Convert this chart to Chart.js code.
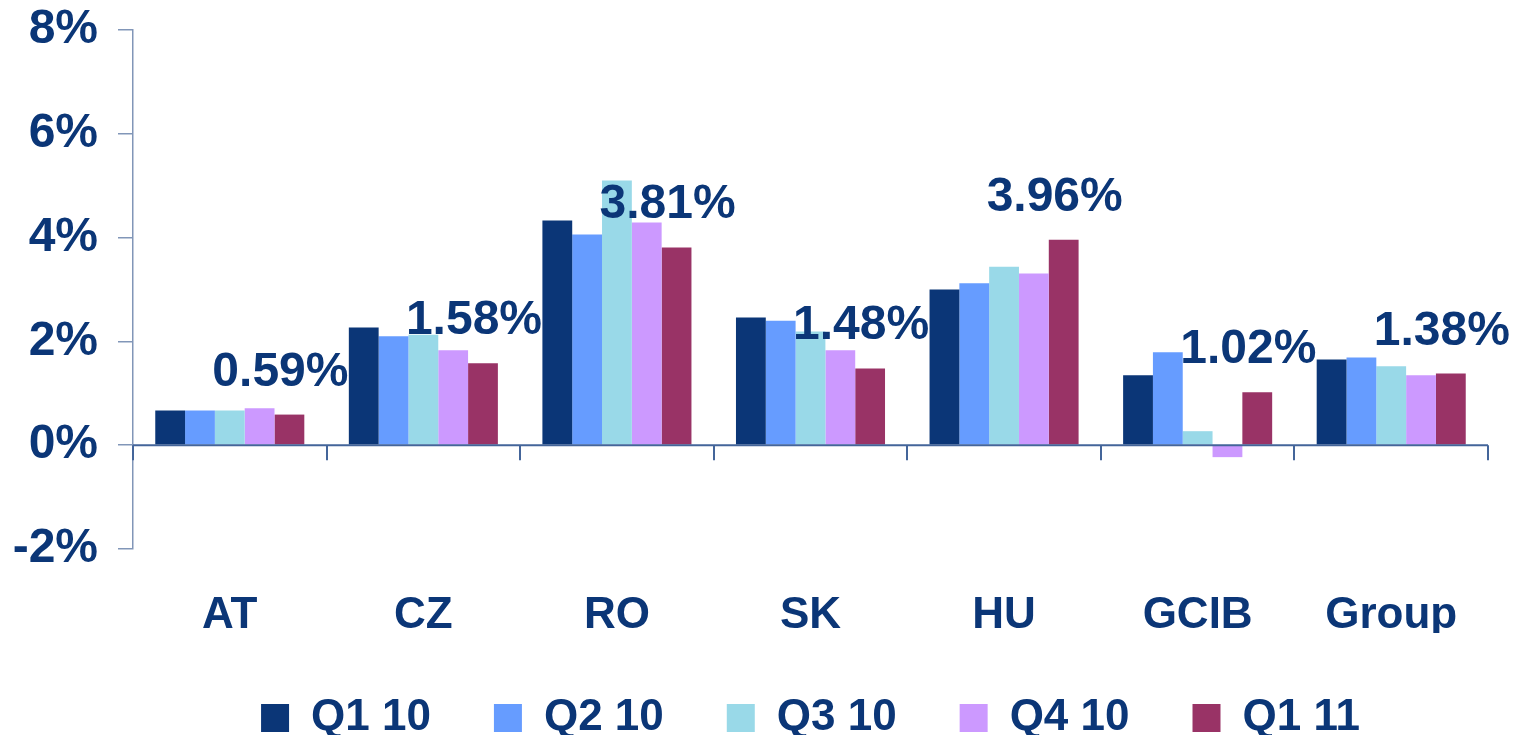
<!DOCTYPE html>
<html>
<head>
<meta charset="utf-8">
<script src="https://cdn.jsdelivr.net/npm/chart.js@4.4.1/dist/chart.umd.min.js"></script>
<style>
    html, body { margin: 0; padding: 0; background: #fff; }
    #wrap { width: 1516px; height: 735px; position: relative; }
</style>
</head>
<body>
<div id="wrap"><canvas id="chart"></canvas></div>
<script>
const categories = ['AT', 'CZ', 'RO', 'SK', 'HU', 'GCIB', 'Group'];
const q1_10 = [0.67, 2.27, 4.33, 2.46, 3.00, 1.35, 1.65];
const q2_10 = [0.67, 2.10, 4.06, 2.40, 3.12, 1.79, 1.69];
const q3_10 = [0.67, 2.13, 5.10, 2.19, 3.44, 0.27, 1.52];
const q4_10 = [0.71, 1.83, 4.29, 1.83, 3.31, -0.23, 1.35];
const q1_11 = [0.59, 1.58, 3.81, 1.48, 3.96, 1.02, 1.38];
const seriesNames = ['Q1 10', 'Q2 10', 'Q3 10', 'Q4 10', 'Q1 11'];
const seriesColors = ['#0b3677', '#669cff', '#99d9e8', '#cc99ff', '#993366'];
const yTicks = [-2, 0, 2, 4, 6, 8];

const navy = '#0b3677';
const axisColor = '#8196b8';
const FONT = "'Liberation Sans', Arial, sans-serif";

// zero line with category tick marks, like the original axis
const zeroAxis = {
    id: 'zeroAxis',
    afterDatasetsDraw(chart) {
        const { ctx, chartArea, scales } = chart;
        const y0 = scales.y.getPixelForValue(0);
        ctx.save();
        ctx.strokeStyle = '#44659a';
        ctx.lineWidth = 2;
        ctx.beginPath();
        ctx.moveTo(chartArea.left, y0);
        ctx.lineTo(chartArea.right, y0);
        for (let i = 0; i <= categories.length; i++) {
            const x = Math.round(scales.x.getPixelForValue(i - 0.5));
            ctx.moveTo(x, y0);
            ctx.lineTo(x, y0 + 15);
        }
        ctx.stroke();
        ctx.restore();
    }
};

// value labels over the last series
const lastLabels = {
    id: 'lastLabels',
    afterDatasetsDraw(chart) {
        const { ctx } = chart;
        const meta = chart.getDatasetMeta(4);
        ctx.save();
        ctx.font = 'bold 48px ' + FONT;
        ctx.fillStyle = navy;
        ctx.textAlign = 'center';
        ctx.textBaseline = 'alphabetic';
        meta.data.forEach((bar, i) => {
            ctx.fillText(q1_11[i].toFixed(2) + '%', bar.x - 9, bar.y - 29);
        });
        ctx.restore();
    }
};

const allSeries = [q1_10, q2_10, q3_10, q4_10, q1_11];

new Chart(document.getElementById('chart'), {
    type: 'bar',
    data: {
        labels: categories,
        datasets: allSeries.map((values, i) => ({
            label: seriesNames[i],
            data: values,
            backgroundColor: seriesColors[i],
            borderWidth: 0,
            categoryPercentage: 0.77,
            barPercentage: 1.0
        }))
    },
    options: {
        responsive: true,
        maintainAspectRatio: false,
        animation: false,
        layout: {
            padding: { top: 30, right: 28, bottom: -15, left: 0 }
        },
        scales: {
            x: {
                grid: { display: false, drawTicks: false },
                border: { display: false },
                ticks: {
                    color: navy,
                    padding: 40,
                    font: { family: FONT, size: 44, weight: 'bold' }
                },
                afterFit(scale) { scale.height = 84; }
            },
            y: {
                min: -2,
                max: 8,
                afterBuildTicks(scale) {
                    scale.ticks = yTicks.map(v => ({ value: v }));
                },
                grid: {
                    drawOnChartArea: false,
                    drawTicks: true,
                    tickLength: 15,
                    color: axisColor,
                    lineWidth: 1.5
                },
                border: { display: true, color: axisColor, width: 1.5 },
                ticks: {
                    color: navy,
                    padding: 20,
                    font: { family: FONT, size: 48, weight: 'bold' },
                    callback: v => v + '%'
                },
                afterFit(scale) {
                    scale.width = 133;
                    scale.paddingTop = 0;
                    scale.paddingBottom = 0;
                }
            }
        },
        plugins: {
            legend: {
                position: 'bottom',
                fullSize: false,
                labels: {
                    color: navy,
                    boxWidth: 28,
                    boxHeight: 28,
                    padding: 63,
                    font: { family: FONT, size: 44, weight: 'bold' }
                }
            },
            tooltip: { enabled: false }
        }
    },
    plugins: [zeroAxis, lastLabels]
});
</script>
</body>
</html>
